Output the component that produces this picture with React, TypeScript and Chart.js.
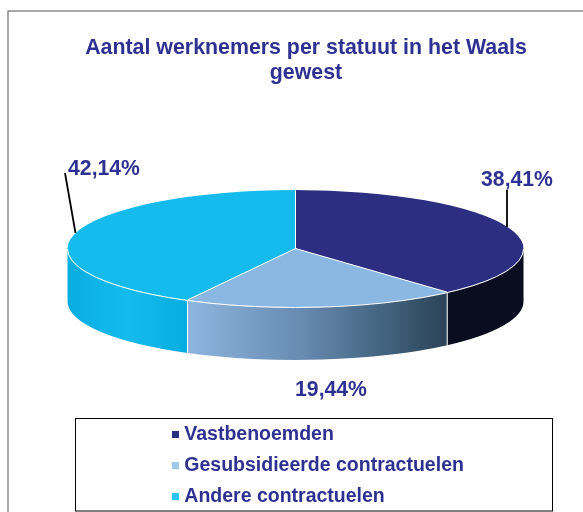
import React, { useEffect, useRef } from "react";
import { Chart, registerables } from "chart.js";

Chart.register(...registerables);

const categories = ["Vastbenoemden", "Gesubsidieerde contractuelen", "Andere contractuelen"];
const shares = [38.41, 19.44, 42.14];
const shareLabels = ["38,41%", "19,44%", "42,14%"];
const titleLines = ["Aantal werknemers per statuut in het Waals", "gewest"];
const topColors = ["#2B2E81", "#8AB8E2", "#14BBEC"];
const markerColors = ["#2B2E81", "#9CC8EA", "#28C4F4"];
const INK = "#2E3192";
const FONT = "'Liberation Sans', Arial, sans-serif";

// pie projection
const PIE = { cx: 295.5, cy: 248.5, rx: 228, ry: 58.5, depth: 53 };

function marker(color: string) {
  const c = document.createElement("canvas");
  c.width = 9;
  c.height = 7;
  const g = c.getContext("2d")!;
  g.fillStyle = color;
  g.fillRect(2, 0, 7, 7);
  return c;
}

const pie3d = {
  id: "pie3d",
  afterLayout(chart: any) {
    const l = chart.legend;
    const padding = l.options.labels.padding;
    l.left = 174.45 - padding;
    l.right = 552;
    l.top = 425 - padding;
    l.bottom = 600;
  },
  beforeDraw(chart: any) {
    const ctx = chart.ctx;
    ctx.save();
    ctx.strokeStyle = "#555555";
    ctx.lineWidth = 1;
    ctx.strokeRect(8, 11, 800, 800);
    ctx.strokeStyle = "#000000";
    ctx.strokeRect(75.5, 418.5, 477, 92.5);
    ctx.restore();
  },
  beforeDatasetsDraw(chart: any) {
    const ctx = chart.ctx;
    const arcs = chart.getDatasetMeta(0).data;
    const { cx, cy, rx, ry, depth } = PIE;

    const wall = (i: number) => {
      if (i === 0) return "#0A0D20";
      const g = ctx.createLinearGradient(i === 1 ? 187 : 68, 0, i === 1 ? 447 : 187, 0);
      if (i === 1) {
        g.addColorStop(0, "#8FB6DF");
        g.addColorStop(0.45, "#668AB0");
        g.addColorStop(0.8, "#3E5E78");
        g.addColorStop(1, "#2B4257");
      } else {
        g.addColorStop(0, "#0AADE0");
        g.addColorStop(0.5, "#14BBEC");
        g.addColorStop(1, "#08ADE0");
      }
      return g;
    };

    arcs.forEach((arc: any, i: number) => {
      const a0 = Math.max(arc.startAngle, 0);
      const a1 = Math.min(arc.endAngle, Math.PI);
      if (a1 <= a0) return;
      ctx.save();
      ctx.beginPath();
      ctx.ellipse(cx, cy, rx, ry, 0, a0, a1);
      ctx.ellipse(cx, cy + depth, rx, ry, 0, a1, a0, true);
      ctx.closePath();
      ctx.fillStyle = wall(i);
      ctx.fill();
      // white seam at the wall's far end
      if (a0 > 0) {
        const x = cx + rx * Math.cos(a0);
        const y = cy + ry * Math.sin(a0);
        ctx.strokeStyle = "#FFFFFF";
        ctx.lineWidth = 1;
        ctx.beginPath();
        ctx.moveTo(x, y);
        ctx.lineTo(x, y + depth);
        ctx.stroke();
      }
      ctx.restore();
    });

    const a = arcs[0];
    ctx.save();
    ctx.translate(cx, cy);
    ctx.scale(rx / a.outerRadius, ry / a.outerRadius);
    ctx.translate(-a.x, -a.y);
  },
  afterDatasetsDraw(chart: any) {
    const ctx = chart.ctx;
    ctx.restore();
    const arcs = chart.getDatasetMeta(0).data;
    const { cx, cy, rx, ry } = PIE;

    ctx.save();
    ctx.strokeStyle = "#FFFFFF";
    ctx.lineWidth = 1;
    ctx.beginPath();
    ctx.ellipse(cx, cy + 0.5, rx, ry, 0, 0, Math.PI);
    ctx.stroke();
    arcs.forEach((arc: any) => {
      ctx.beginPath();
      ctx.moveTo(cx, cy);
      ctx.lineTo(cx + rx * Math.cos(arc.startAngle), cy + ry * Math.sin(arc.startAngle));
      ctx.stroke();
    });

    // leader lines
    ctx.strokeStyle = "#000000";
    ctx.lineWidth = 1.8;
    ctx.beginPath();
    ctx.moveTo(65, 173);
    ctx.lineTo(75.5, 233);
    ctx.moveTo(507, 190);
    ctx.lineTo(507, 227);
    ctx.stroke();

    // slice labels
    ctx.fillStyle = INK;
    ctx.font = `bold 21.2px ${FONT}`;
    ctx.textAlign = "center";
    ctx.textBaseline = "alphabetic";
    const spots = [
      [517, 186],
      [331, 395.5],
      [104, 174.5],
    ];
    shareLabels.forEach((t, i) => ctx.fillText(t, spots[i][0], spots[i][1]));
    ctx.restore();
  },
};

export default function App() {
  const ref = useRef<HTMLCanvasElement>(null);
  useEffect(() => {
    const chart = new Chart(ref.current!, {
      type: "pie",
      data: {
        labels: categories,
        datasets: [{ data: shares, backgroundColor: topColors, borderWidth: 0 }],
      },
      options: {
        animation: false,
        responsive: false,
        layout: { padding: { left: 29, right: 0, top: 0, bottom: 0 } },
        plugins: {
          tooltip: { enabled: false },
          title: {
            display: true,
            text: titleLines,
            color: INK,
            font: { family: FONT, size: 21.35, weight: "bold", lineHeight: 1.17 },
            padding: { top: 35.5, bottom: 10 },
          },
          legend: {
            display: true,
            position: "left",
            align: "start",
            labels: {
              color: INK,
              font: { family: FONT, size: 19.5, weight: "bold" },
              padding: 11.5,
              boxWidth: 7,
              boxHeight: 7,
              usePointStyle: true,
              pointStyleWidth: 0.1,
              generateLabels: () =>
                categories.map((text, i) => ({
                  text,
                  fillStyle: markerColors[i],
                  strokeStyle: markerColors[i],
                  lineWidth: 0,
                  pointStyle: marker(markerColors[i]),
                  hidden: false,
                  index: i,
                  fontColor: INK,
                })),
            },
          },
        },
      },
      plugins: [pie3d],
    } as any);
    return () => chart.destroy();
  }, []);
  return (
    <div style={{ position: "absolute", left: 0, top: 0, width: 583, height: 512, background: "#fff" }}>
      <canvas ref={ref} width={583} height={512} style={{ display: "block" }} />
    </div>
  );
}
